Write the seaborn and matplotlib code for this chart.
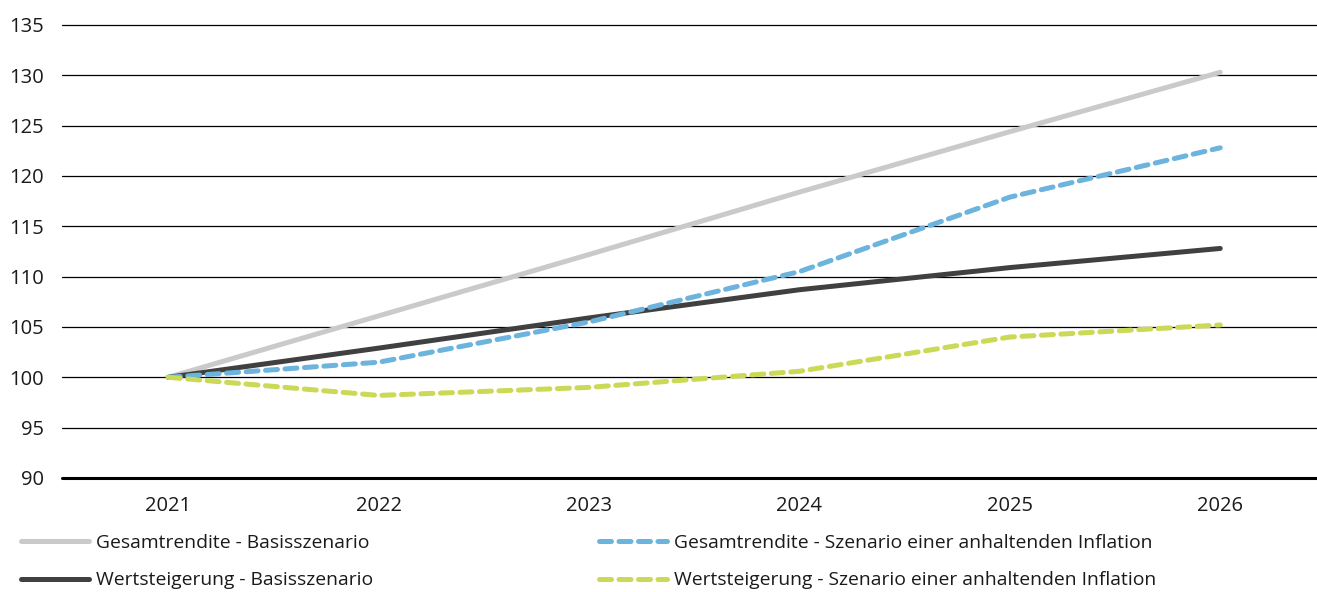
import matplotlib
matplotlib.use("Agg")
import matplotlib.pyplot as plt
import seaborn as sns
import pandas as pd

# data
years = ["2021", "2022", "2023", "2024", "2025", "2026"]
gesamt_basis = [100.0, 106.1, 112.2, 118.4, 124.4, 130.3]
wert_basis = [100.0, 102.9, 105.9, 108.7, 110.9, 112.8]
gesamt_infl = [100.0, 101.5, 105.5, 110.5, 117.9, 122.8]
wert_infl = [100.0, 98.2, 99.0, 100.6, 104.0, 105.2]

labels = [
    "Gesamtrendite - Basisszenario",
    "Wertsteigerung - Basisszenario",
    "Gesamtrendite - Szenario einer anhaltenden Inflation",
    "Wertsteigerung - Szenario einer anhaltenden Inflation",
]
colors = ["#cacaca", "#404040", "#6cb3de", "#cbd957"]

df = pd.DataFrame({
    "Jahr": years * 4,
    "Wert": gesamt_basis + wert_basis + gesamt_infl + wert_infl,
    "Serie": [l for l in labels for _ in years],
})

sns.set_style("white")
plt.rcParams["font.family"] = ["Open Sans", "DejaVu Sans"]

fig = plt.figure(figsize=(13.17, 5.92), dpi=100)
ax = fig.add_axes([0.0471, 0.1926, 0.9529, 0.7652])

# grid lines first so the series sit on top
for v in range(95, 140, 5):
    ax.axhline(v, color="black", lw=0.9, zorder=1, clip_on=False)
ax.axhline(90, color="black", lw=2.2, zorder=1, clip_on=False)

sns.lineplot(data=df, x="Jahr", y="Wert", hue="Serie", style="Serie",
             palette=dict(zip(labels, colors)),
             dashes={labels[0]: "", labels[1]: "",
                     labels[2]: (2.4, 1.5), labels[3]: (2.4, 1.5)},
             linewidth=3.6, ax=ax, legend=False, zorder=3)

for ln in ax.get_lines()[-4:]:
    ln.set_solid_capstyle("round")
    ln.set_dash_capstyle("round")

ax.set_xlim(-0.505, 5.46)
ax.set_ylim(90, 135)
ax.set_yticks(range(90, 140, 5))
ax.set_xlabel("")
ax.set_ylabel("")
for s in ax.spines.values():
    s.set_visible(False)
ax.tick_params(axis="both", length=0, labelsize=14.5, colors="#1a1a1a")
ax.tick_params(axis="x", pad=13)
ax.tick_params(axis="y", pad=13)

handles = []
for lab, c, d in zip(labels, colors, ["-", "-", (0, (2.4, 1.5)), (0, (2.4, 1.5))]):
    h = plt.Line2D([0], [0], color=c, lw=3.6, linestyle=d,
                   solid_capstyle="round", dash_capstyle="round")
    handles.append(h)

leg_kw = dict(frameon=False, fontsize=13.9, handlelength=3.5, handletextpad=0.38,
              labelspacing=1.0, borderaxespad=0, borderpad=0)
leg1 = fig.legend(handles[:2], labels[:2], loc="upper left",
                  bbox_to_anchor=(0.016, 0.098), **leg_kw)
leg2 = fig.legend(handles[2:], labels[2:], loc="upper left",
                  bbox_to_anchor=(0.455, 0.098), **leg_kw)
for t in leg1.get_texts() + leg2.get_texts():
    t.set_color("#1a1a1a")

fig.savefig("out.png", dpi=100)
